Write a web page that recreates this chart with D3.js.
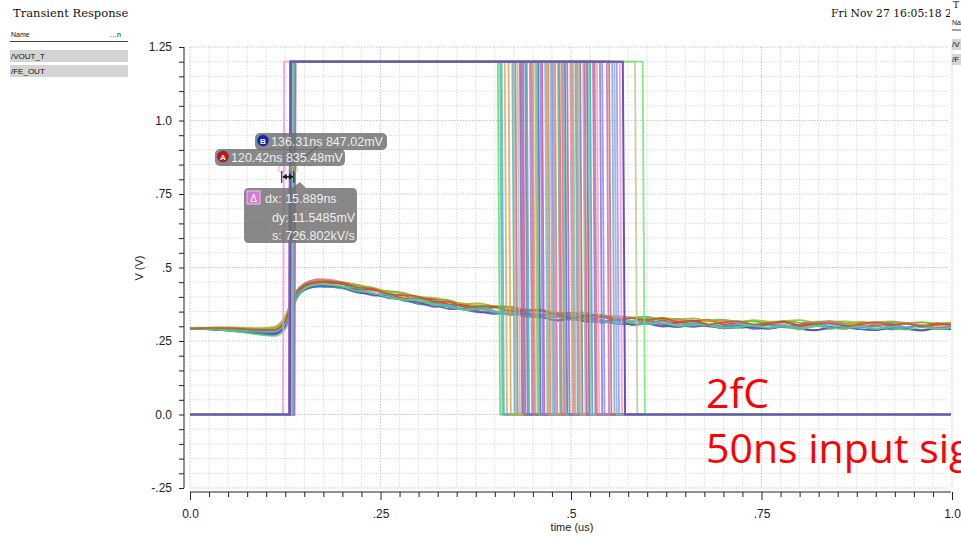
<!DOCTYPE html>
<html>
<head>
<meta charset="utf-8">
<script src="https://cdn.jsdelivr.net/npm/d3@7"></script>
<style>
body { margin: 0; background: #fff; }
svg { display: block; }
</style>
</head>
<body>
<svg width="961" height="540"></svg>
<script>
// VOUT_T monte carlo runs: time in ns, values in mV
var analogTimes = [0,20,40,60,80,100,115,125,132,140,150,165,180,200,220,240,260,280,300,320,340,360,380,400,420,440,460,480,500,520,540,560,580,600,620,640,660,680,700,720,740,760,780,800,820,840,860,880,900,920,940,960,980,1000];

var analogMillivolts = [
  [292,290,287,283,277,271,275,302,352,400,423,434,434,430,414,410,396,392,376,372,359,360,351,342,345,334,332,320,324,317,319,308,308,309,299,303,298,303,293,296,297,291,299,292,287,293,295,290,287,295,291,287,292,289],
  [292,294,295,294,292,291,297,325,374,422,446,459,456,449,441,425,420,413,397,392,388,373,371,369,367,355,353,343,346,338,339,329,330,332,323,325,317,320,322,316,317,310,318,312,314,318,310,314,311,315,308,313,309,311],
  [292,291,292,287,286,282,282,305,357,410,438,453,454,445,424,424,406,407,383,385,366,374,358,366,346,348,332,341,330,336,317,324,314,325,308,313,320,306,299,311,303,311,298,305,312,298,292,305,300,309,296,304,293,302],
  [292,295,296,293,292,290,294,320,368,416,440,454,451,443,436,420,417,398,396,379,380,377,362,364,350,351,352,338,339,325,330,330,318,320,326,315,308,317,312,317,305,310,314,302,307,310,304,315,306,301,310,303,307,301],
  [292,291,288,284,280,278,281,307,359,407,430,440,437,429,425,409,409,391,377,381,368,357,359,348,354,340,330,335,325,330,315,317,306,316,309,302,313,302,305,295,301,305,296,297,305,292,299,295,301,289,296,301,291,296],
  [292,293,291,291,287,286,289,316,365,413,436,447,448,444,427,425,411,394,395,391,374,372,358,364,363,347,339,345,336,322,331,323,329,313,319,311,318,322,307,312,301,307,313,301,310,316,303,297,307,303,311,297,304,308],
  [292,290,288,285,281,277,277,300,348,399,425,438,438,434,419,405,404,387,382,366,371,357,347,350,339,344,332,320,327,317,316,320,305,309,304,297,306,300,295,303,291,296,298,292,286,297,293,300,288,294,291,285,296,292],
  [292,295,296,296,294,295,303,335,380,420,443,453,454,450,440,432,417,413,400,397,387,376,378,368,365,356,357,347,345,346,333,335,330,324,329,323,327,319,320,315,321,316,318,321,313,315,317,311,313,317,312,314,310,313],
  [292,293,293,290,286,285,286,310,362,415,444,459,460,450,431,429,407,406,385,387,384,365,368,350,355,358,341,331,340,331,317,327,329,315,308,321,312,305,317,311,302,312,304,295,308,315,303,298,308,299,312,303,294,309],
  [292,292,290,287,283,281,284,308,356,405,429,442,443,436,430,410,407,388,392,375,372,358,365,353,340,347,334,332,337,320,322,309,318,311,317,303,309,303,294,308,301,296,305,293,300,306,295,300,290,301,295,303,291,299],
  [292,291,288,283,276,269,269,290,335,392,427,441,442,435,420,415,398,392,388,372,369,355,359,349,347,335,333,335,322,323,311,318,311,307,312,301,304,305,295,298,304,295,299,289,300,295,292,300,293,295,289,296,291,295],
  [292,294,294,293,289,287,291,318,367,416,440,451,452,448,432,428,409,405,401,384,383,366,367,367,353,354,354,340,330,335,334,321,327,321,328,315,318,306,313,317,307,311,316,304,308,311,301,308,314,305,309,300,310,303]
];
var analogColors = ['#3050d0','#30c030','#d030c0','#f09030','#20b0a0','#e03030','#6040c0','#a0b020','#f070b0','#30c0e0','#60d060','#b06020'];

// FE_OUT discriminator pulses (ns)
var riseTimes = [131,133,135,132,130,136,134,132,133,131,135,137,132,134,130,133,136,132,131,134,135,133,132,130,136,133,134,132,135,131,133,137,132,134,122,133,
  132,134,131,135,133,130,136,132,134,131,133,135,132,130,134,133,131,136,132,134,133,131,135,133];
var fallTimes = [404,407,413,423,427,430,433,437,442,446,450,453,457,462,466,470,475,479,483,488,492,499,503,508,512,516,521,525,529,534,538,547,554,560,564,584,
  409,418,425,435,440,448,455,460,468,473,477,485,490,495,501,506,510,518,523,531,541,550,557,594];
var digitalColors = ['#5cd65c','#40c0a0','#e8a050','#60a0f0','#d050c0','#c8b878','#4a6fe0','#e05050','#30b0a0','#b070e0',
  '#f08080','#a0c040','#3060d0','#d040a0','#50c8e0','#c09040','#8080ff','#e060d0','#40c060','#f06060',
  '#7050c0','#d0a060','#60d0a0','#e070b0','#5070e0','#b0b040','#d03050','#30a0c0','#a060e0','#f0a0a0',
  '#7070f0','#c060e0','#9090ff','#b080f0','#f090e0','#c0c090',
  '#40b0e0','#e0a040','#90d050','#c050b0','#5080d0','#d07070','#50c090','#a070d0','#e09060','#70b0f0',
  '#c0a050','#e050a0','#40d080','#8060e0','#f07090','#60a0b0','#d0b060','#b050e0','#50e0b0','#e06080',
  '#9080f0','#c07030','#60c0d0','#70e070'];
var lastRun = { rise: 131, fall: 568, color: '#6a52b8' };
var digitalLevels = [0, 1.2];

var yLabelValues = [-0.25, 0, 0.25, 0.5, 0.75, 1.0, 1.25];
var yLabelText = ['-.25', '0.0', '.25', '.5', '.75', '1.0', '1.25'];
var xLabelValues = [0, 250, 500, 750, 1000];
var xLabelText = ['0.0', '.25', '.5', '.75', '1.0'];

var markerA = [120.42, 0.83548];
var markerB = [136.31, 0.84702];
var markerText = ['120.42ns 835.48mV', '136.31ns 847.02mV'];
var deltaText = ['dx: 15.889ns', 'dy: 11.5485mV', 's: 726.802kV/s'];
var legendNames = ['/VOUT_T', '/FE_OUT'];

var svg = d3.select('svg');
var x = d3.scaleLinear().domain([0, 1000]).range([190, 952]);
var y = d3.scaleLinear().domain([-0.25, 1.25]).range([488, 47]);

var defs = svg.append('defs');
defs.append('clipPath').attr('id', 'plotclip')
  .append('rect').attr('x', 190).attr('y', 40).attr('width', 761).attr('height', 450);
defs.append('clipPath').attr('id', 'dateclip')
  .append('rect').attr('x', 0).attr('y', 0).attr('width', 950).attr('height', 30);

// grid
var grid = svg.append('g');
var vLines = d3.range(0, 1001, 25);
var hLines = d3.range(-0.25, 1.2501, 0.05);
var isMajorV = function(d) { return Math.abs(Math.round(d * 4) - d * 4) < 1e-6; };
grid.selectAll('.vg').data(vLines).enter().append('line')
  .attr('x1', function(d) { return x(d); }).attr('x2', function(d) { return x(d); })
  .attr('y1', y(1.25)).attr('y2', y(-0.25))
  .attr('stroke', function(d) { return d % 250 === 0 ? '#c4c4c4' : '#dadada'; })
  .attr('stroke-dasharray', '1.5,1.5');
grid.selectAll('.hg').data(hLines).enter().append('line')
  .attr('x1', x(0)).attr('x2', 949)
  .attr('y1', function(d) { return y(d); }).attr('y2', function(d) { return y(d); })
  .attr('stroke', function(d) { return isMajorV(d) ? '#c4c4c4' : '#dadada'; })
  .attr('stroke-dasharray', '1.5,1.5');

// axes
var yAxis = d3.axisLeft(y).tickValues(hLines).tickSize(5).tickPadding(7)
  .tickFormat(function(d) {
    var i = yLabelValues.findIndex(function(v) { return Math.abs(v - d) < 1e-6; });
    return i >= 0 ? yLabelText[i] : '';
  });
var gy = svg.append('g').attr('transform', 'translate(184,0)').call(yAxis);
gy.select('.domain').attr('d', 'M0,' + y(1.25) + 'V' + y(-0.25));

var xAxis = d3.axisBottom(x).tickValues(vLines).tickSize(5).tickPadding(12)
  .tickFormat(function(d) {
    var i = xLabelValues.indexOf(d);
    return i >= 0 ? xLabelText[i] : '';
  });
var gx = svg.append('g').attr('transform', 'translate(0,492)').call(xAxis);
gx.select('.domain').attr('d', 'M' + x(0) + ',0H951');
gx.selectAll('.tick line').attr('y2', function(d) { return xLabelValues.indexOf(d) >= 0 ? 8 : 5; });

[gx, gy].forEach(function(g) {
  g.selectAll('text').attr('font-family', 'Liberation Sans, Arial, sans-serif').attr('font-size', 12).attr('fill', '#222');
  g.selectAll('line, path').attr('stroke', '#222');
});

svg.append('text').attr('x', 572).attr('y', 531).attr('text-anchor', 'middle')
  .attr('font-family', 'Liberation Sans, Arial, sans-serif').attr('font-size', 11).attr('fill', '#222')
  .text('time (us)');
svg.append('text').attr('transform', 'translate(143,268) rotate(-90)').attr('text-anchor', 'middle')
  .attr('font-family', 'Liberation Sans, Arial, sans-serif').attr('font-size', 11).attr('fill', '#222')
  .text('V (V)');

// traces
var plot = svg.append('g').attr('clip-path', 'url(#plotclip)');
var aline = d3.line()
  .x(function(d, i) { return x(analogTimes[i]); })
  .y(function(d) { return y(d / 1000); })
  .curve(d3.curveCatmullRom);
plot.selectAll('.analog').data(analogMillivolts).enter().append('path')
  .attr('d', aline)
  .attr('fill', 'none')
  .attr('stroke', function(d, i) { return analogColors[i]; })
  .attr('stroke-width', 1.7)
  .attr('opacity', 0.85);

var dline = d3.line().x(function(d) { return x(d[0]); }).y(function(d) { return y(d[1]); });
var pulse = function(r, f) {
  return dline([[0, digitalLevels[0]], [r, digitalLevels[0]], [r + 1.5, digitalLevels[1]],
    [f, digitalLevels[1]], [f + 3, digitalLevels[0]], [1000, digitalLevels[0]]]);
};
plot.selectAll('.digital').data(riseTimes).enter().append('path')
  .attr('d', function(r, i) { return pulse(r, fallTimes[i]); })
  .attr('fill', 'none')
  .attr('stroke', function(d, i) { return digitalColors[i]; })
  .attr('stroke-width', 1.8)
  .attr('opacity', 0.8);
plot.append('path').attr('d', pulse(lastRun.rise, lastRun.fall))
  .attr('fill', 'none').attr('stroke', lastRun.color).attr('stroke-width', 2);

// markers
var ax = x(markerA[0]), ay = y(markerA[1]);
var bx = x(markerB[0]), by = y(markerB[1]);
svg.append('circle').attr('cx', ax).attr('cy', ay).attr('r', 3.5).attr('fill', 'none').attr('stroke', '#f0a0f0').attr('stroke-width', 1);
svg.append('circle').attr('cx', bx).attr('cy', by + 3).attr('r', 3.5).attr('fill', 'none').attr('stroke', '#d0c040').attr('stroke-width', 1);
var arrowY = ay + 8;
svg.append('line').attr('x1', ax).attr('x2', ax).attr('y1', arrowY - 6).attr('y2', arrowY + 6).attr('stroke', '#111');
svg.append('line').attr('x1', bx).attr('x2', bx).attr('y1', arrowY - 6).attr('y2', arrowY + 6).attr('stroke', '#111');
svg.append('line').attr('x1', ax + 1).attr('x2', bx - 1).attr('y1', arrowY).attr('y2', arrowY).attr('stroke', '#111').attr('stroke-width', 1.5);
svg.append('path').attr('d', 'M' + (ax + 1) + ',' + arrowY + 'l4,-3v6z').attr('fill', '#111');
svg.append('path').attr('d', 'M' + (bx - 1) + ',' + arrowY + 'l-4,-3v6z').attr('fill', '#111');

var labelFont = 'Liberation Sans, Arial, sans-serif';
function markerLabel(x0, y0, w, color, letter, txt) {
  var g = svg.append('g');
  g.append('rect').attr('x', x0).attr('y', y0).attr('width', w).attr('height', 17).attr('rx', 5)
    .attr('fill', '#6e6e6e').attr('opacity', 0.82);
  g.append('circle').attr('cx', x0 + 8).attr('cy', y0 + 7.5).attr('r', 5.5).attr('fill', color).attr('stroke', '#333').attr('stroke-width', 0.5);
  g.append('text').attr('x', x0 + 8).attr('y', y0 + 10.5).attr('text-anchor', 'middle').attr('font-family', labelFont)
    .attr('font-size', 8).attr('font-weight', 'bold').attr('fill', '#fff').text(letter);
  g.append('text').attr('x', x0 + 16).attr('y', y0 + 13).attr('font-family', labelFont).attr('font-size', 12.5)
    .attr('fill', '#eee').text(txt);
}
svg.append('line').attr('x1', 318).attr('y1', 146).attr('x2', 299).attr('y2', 161).attr('stroke', '#444').attr('stroke-width', 1.5);
markerLabel(255, 133, 132, '#1020d0', 'B', markerText[1]);
markerLabel(215, 149, 130, '#d01010', 'A', markerText[0]);

var dg = svg.append('g');
dg.append('path').attr('d', 'M249,188 H292 L300,182 L306,188 H352 Q357,188 357,193 V238 Q357,243 352,243 H249 Q244,243 244,238 V193 Q244,188 249,188 Z')
  .attr('fill', '#6e6e6e').attr('opacity', 0.82);
dg.append('rect').attr('x', 247).attr('y', 191).attr('width', 13).attr('height', 13).attr('fill', '#d878d0').attr('stroke', '#f0c0f0');
dg.append('text').attr('x', 253.5).attr('y', 201.5).attr('text-anchor', 'middle').attr('font-family', labelFont)
  .attr('font-size', 10).attr('fill', '#fff').text('Δ');
dg.selectAll('.dt').data(deltaText).enter().append('text')
  .attr('x', function(d, i) { return i === 0 ? 265 : 272; })
  .attr('y', function(d, i) { return 203 + i * 18.5; })
  .attr('font-family', labelFont).attr('font-size', 12.5).attr('fill', '#eee')
  .text(function(d) { return d; });

// header
svg.append('text').attr('x', 13).attr('y', 17).attr('font-family', 'DejaVu Serif, serif').attr('font-size', 11.5)
  .attr('fill', '#111').text('Transient Response');
svg.append('text').attr('x', 831).attr('y', 17).attr('clip-path', 'url(#dateclip)')
  .attr('font-family', 'DejaVu Serif, serif').attr('font-size', 10.8).attr('fill', '#111').text('Fri Nov 27 16:05:18 2020');

// left legend
svg.append('text').attr('x', 11).attr('y', 37).attr('font-family', labelFont).attr('font-size', 7).attr('fill', '#111').text('Name');
svg.append('text').attr('x', 110).attr('y', 37).attr('font-family', labelFont).attr('font-size', 7).attr('fill', '#111').text('…n');
svg.append('line').attr('x1', 10).attr('x2', 128).attr('y1', 41.5).attr('y2', 41.5).attr('stroke', '#444');
legendNames.forEach(function(n, i) {
  svg.append('rect').attr('x', 10).attr('y', 50 + i * 15).attr('width', 118).attr('height', 12).attr('fill', '#d4d4d4');
  svg.append('text').attr('x', 11).attr('y', 59 + i * 15).attr('font-family', labelFont).attr('font-size', 8).attr('fill', '#111').text(n);
});

// right (cut off) legend panel
var rp = svg.append('g');
rp.append('text').attr('x', 953).attr('y', 8).attr('font-family', 'DejaVu Serif, serif').attr('font-size', 9).attr('fill', '#111').text('T');
rp.append('text').attr('x', 952).attr('y', 25).attr('font-family', labelFont).attr('font-size', 7).attr('fill', '#111').text('Na');
rp.append('line').attr('x1', 952).attr('x2', 961).attr('y1', 30).attr('y2', 30).attr('stroke', '#444');
legendNames.forEach(function(n, i) {
  rp.append('rect').attr('x', 952).attr('y', 39 + i * 15).attr('width', 9).attr('height', 11).attr('fill', '#d4d4d4');
  rp.append('text').attr('x', 952).attr('y', 47 + i * 15).attr('font-family', labelFont).attr('font-size', 8).attr('fill', '#111').text(n.slice(0, 2));
});

// annotation
svg.append('text').attr('x', 706).attr('y', 408).attr('font-family', 'Open Sans, sans-serif').attr('font-size', 41)
  .attr('fill', '#ff0000').text('2fC');
svg.append('text').attr('x', 706).attr('y', 463).attr('font-family', 'Open Sans, sans-serif').attr('font-size', 41)
  .attr('fill', '#ff0000').text('50ns input signal');
</script>
</body>
</html>
